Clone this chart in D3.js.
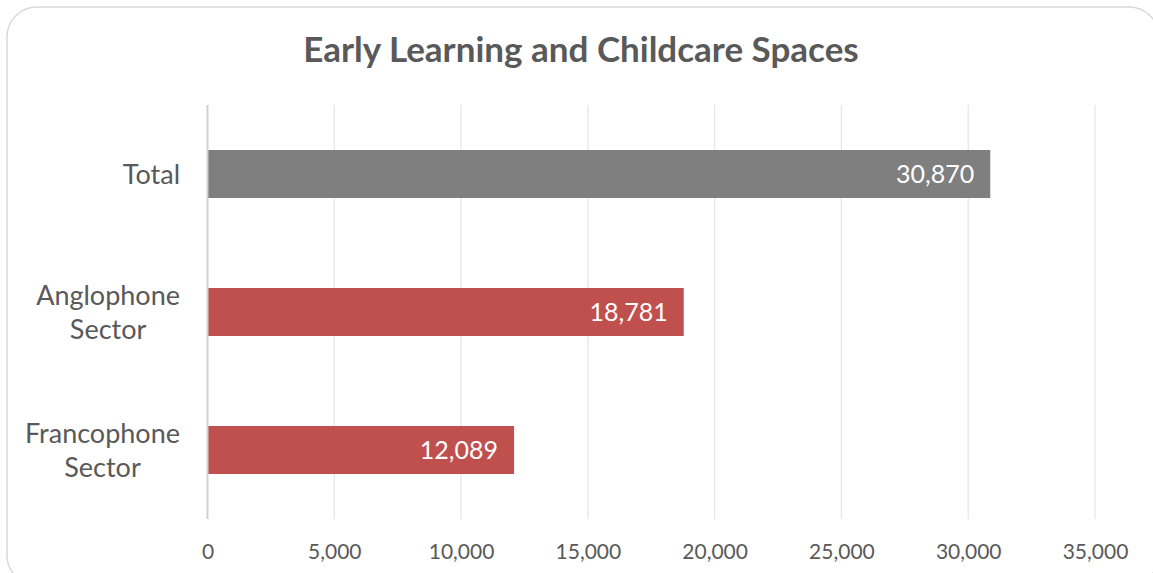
<!DOCTYPE html>
<html>
<head>
<meta charset="utf-8">
<script src="https://cdn.jsdelivr.net/npm/d3@7"></script>
<style>
  body { margin: 0; background: #fff; }
  svg { display: block; font-family: Lato, "Open Sans", sans-serif; }
</style>
</head>
<body>
<svg id="chart" width="1153" height="573"></svg>
<script>
const categories = [['Total'], ['Anglophone', 'Sector'], ['Francophone', 'Sector']];
const values = [30870, 18781, 12089];
const barColors = ['#7f7f7f', '#c0504d', '#c0504d'];
const tickValues = [0, 5000, 10000, 15000, 20000, 25000, 30000, 35000];
const title = 'Early Learning and Childcare Spaces';

const svg = d3.select('#chart');
const margin = {top: 105, right: 58, bottom: 54, left: 207.5};
const width = +svg.attr('width') - margin.left - margin.right;
const height = +svg.attr('height') - margin.top - margin.bottom;

// frame
svg.append('rect')
  .attr('x', 7).attr('y', 7)
  .attr('width', 1152).attr('height', 578)
  .attr('rx', 30)
  .attr('fill', '#fff')
  .attr('stroke', '#d9d9d9')
  .attr('stroke-width', 1.5);

svg.append('text')
  .attr('x', 581).attr('y', 62)
  .attr('text-anchor', 'middle')
  .attr('font-size', 35).attr('font-weight', 'bold')
  .attr('fill', '#595959')
  .text(title);

const chart = svg.append('g')
  .attr('transform', 'translate(' + margin.left + ',' + margin.top + ')');

const x = d3.scaleLinear().domain([0, 35000]).range([0, width]);
const y = d3.scaleBand()
  .domain(categories.map((d, i) => i))
  .range([0, height])
  .paddingInner(0.652)
  .paddingOuter(0.326);

// gridlines
chart.append('g')
  .selectAll('line')
  .data(tickValues.slice(1))
  .enter().append('line')
  .attr('x1', d => x(d)).attr('x2', d => x(d))
  .attr('y1', 0).attr('y2', height)
  .attr('stroke', '#e6e6e6')
  .attr('stroke-width', 1.3);

// x axis labels
const xAxis = chart.append('g')
  .attr('transform', 'translate(0,' + height + ')')
  .call(d3.axisBottom(x).tickValues(tickValues).tickFormat(d3.format(',')).tickSize(0).tickPadding(25));
xAxis.select('.domain').remove();
xAxis.selectAll('text')
  .attr('font-family', 'Lato, "Open Sans", sans-serif')
  .attr('font-size', 21)
  .attr('fill', '#595959');

// bars
chart.append('g')
  .selectAll('rect')
  .data(values)
  .enter().append('rect')
  .attr('x', 0)
  .attr('y', (d, i) => y(i))
  .attr('width', d => x(d))
  .attr('height', y.bandwidth())
  .attr('fill', (d, i) => barColors[i]);

// vertical axis line
chart.append('line')
  .attr('x1', 0).attr('x2', 0)
  .attr('y1', 0).attr('y2', height)
  .attr('stroke', '#d0d0d0')
  .attr('stroke-width', 2);

// value labels
chart.append('g')
  .selectAll('text')
  .data(values)
  .enter().append('text')
  .attr('x', d => x(d) - 16)
  .attr('y', (d, i) => y(i) + y.bandwidth() / 2)
  .attr('dy', '0.36em')
  .attr('text-anchor', 'end')
  .attr('font-size', 25)
  .attr('fill', '#fff')
  .text(d => d3.format(',')(d));

// category labels, wrapped lines centred in a right-aligned block
const labelRight = 180 - margin.left;
const lineGap = 34;
categories.forEach((lines, i) => {
  const g = chart.append('g');
  const cy = y(i) + y.bandwidth() / 2;
  const texts = lines.map((t, j) => g.append('text')
    .attr('y', cy + (j - (lines.length - 1) / 2) * lineGap)
    .attr('dy', '0.36em')
    .attr('text-anchor', 'middle')
    .attr('font-size', 27)
    .attr('fill', '#595959')
    .text(t));
  const maxW = d3.max(texts, t => t.node().getComputedTextLength());
  texts.forEach(t => t.attr('x', labelRight - maxW / 2));
});
</script>
</body>
</html>
